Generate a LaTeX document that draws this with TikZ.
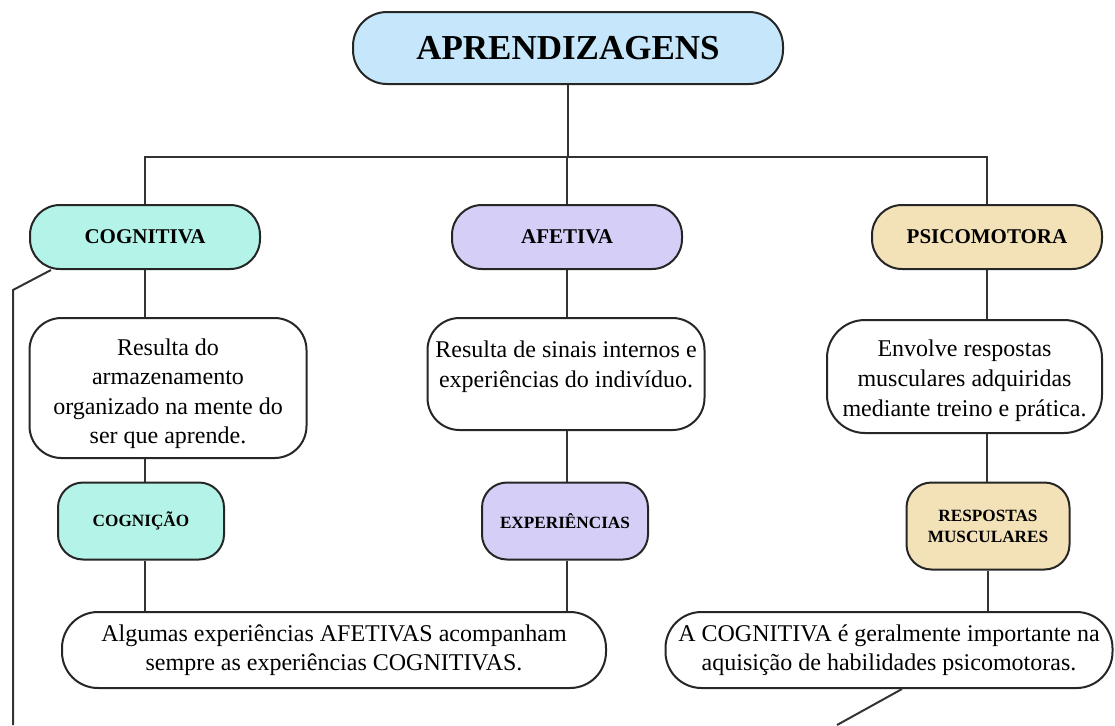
\documentclass[tikz,border=0pt]{standalone}
\usepackage{fontspec}
\setmainfont{Liberation Serif}
\usetikzlibrary{positioning}

\begin{document}
\begin{tikzpicture}[
    x=0.5pt,
    y=-0.5pt,
    box edge/.style={draw=black!85, line width=1pt},
    link/.style={draw=black!80, line width=1pt},
    title box/.style={box edge, fill=apTitle, rounded corners=17pt,
      minimum width=215pt, minimum height=36pt, inner sep=0pt,
      font=\fontsize{17.5}{20}\selectfont\bfseries},
    area box/.style={box edge, rounded corners=15pt,
      minimum width=115pt, minimum height=32pt, inner sep=0pt,
      font=\fontsize{10.5}{12}\selectfont\bfseries},
    text box/.style={box edge, fill=white, rounded corners=16pt,
      inner sep=0pt, align=center,
      font=\fontsize{12}{14.8}\selectfont},
    key box/.style={box edge, rounded corners=12.5pt,
      minimum width=83pt, minimum height=38.5pt, inner sep=0pt, align=center,
      font=\fontsize{8.6}{10.5}\selectfont\bfseries},
    note box/.style={box edge, fill=white, rounded corners=18pt,
      minimum height=38pt, inner sep=0pt, align=center,
      font=\fontsize{12}{14.6}\selectfont}
]

\definecolor{apTitle}{RGB}{198,231,251}
\definecolor{apCog}{RGB}{180,243,231}
\definecolor{apAfe}{RGB}{213,206,246}
\definecolor{apPsi}{RGB}{243,225,184}

\useasboundingbox (0,0) rectangle (1115,725);

% Title and the three kinds of learning.
\node[title box] (aprend) at (568,48) {APRENDIZAGENS};
\node[area box, fill=apCog] (cognitiva) at (145,237) {COGNITIVA};
\node[area box, fill=apAfe] (afetiva) at (567,237) {AFETIVA};
\node[area box, fill=apPsi] (psicomotora) at (987,237) {PSICOMOTORA};

% Descriptions (struts only nudge the lines inside the boxes).
\node[text box, minimum width=138.5pt, minimum height=70pt] (cogdesc) at (168,388)
  {\rule{0pt}{14pt}Resulta do\\ armazenamento\\ organizado na mente do\\ ser que aprende.};
\node[text box, minimum width=138.5pt, minimum height=56pt] (afedesc) at (566,374)
  {Resulta de sinais internos e\\ experiências do indivíduo.\rule[-9.6pt]{0pt}{0pt}};
\node[text box, rounded corners=19pt, minimum width=137.5pt, minimum height=56.5pt]
  (psidesc) at (964.5,376.5)
  {\rule{0pt}{12.5pt}Envolve respostas\\ musculares adquiridas\\ mediante treino e prática.};

% Key words.
\node[key box, fill=apCog] (cognicao) at (141,521) {COGNIÇÃO};
\node[key box, fill=apAfe] (experiencias) at (565,521) {EXPERIÊNCIAS};
\node[key box, fill=apPsi, minimum width=81.5pt, minimum height=43.5pt]
  (respostas) at (988,526) {RESPOSTAS\\ MUSCULARES};

% Notes at the bottom.
\node[note box, minimum width=272pt] (algumas) at (334,650)
  {Algumas experiências AFETIVAS acompanham\\ sempre as experiências COGNITIVAS.};
\node[note box, minimum width=223.5pt] (acognitiva) at (889,650)
  {A COGNITIVA é geralmente importante na\\ aquisição de habilidades psicomotoras.};

% Tree from the title.
\coordinate (bar) at (568,157);
\draw[link] (aprend) -- (bar);
\draw[link] (cognitiva.north) -- (cognitiva.north |- bar)
  -- (psicomotora.north |- bar) -- (psicomotora.north);
\draw[link] (afetiva.north) -- (afetiva.north |- bar);

% Vertical chains.
\draw[link] (cognitiva.south) -- (cognitiva.south |- cogdesc.north);
\draw[link] (cognitiva.south |- cogdesc.south) -- (cognitiva.south |- cognicao.north);
\draw[link] (cognitiva.south |- cognicao.south) -- (cognitiva.south |- algumas.north);
\draw[link] (afetiva.south) -- (afetiva.south |- afedesc.north);
\draw[link] (afetiva.south |- afedesc.south) -- (afetiva.south |- experiencias.north);
\draw[link] (afetiva.south |- experiencias.south) -- (afetiva.south |- algumas.north);
\draw[link] (psicomotora.south) -- (psicomotora.south |- psidesc.north);
\draw[link] (psicomotora.south |- psidesc.south) -- (psicomotora.south |- respostas.north);
\draw[link] (respostas.south) -- (respostas.south |- acognitiva.north);

% Lines running off the bottom edge.
\coordinate (leftbend) at (13,290);
\coordinate (leftend) at (13,725);
\coordinate (rightend) at (837,725);
\draw[link] ([xshift=11pt]cognitiva.south west) -- (leftbend) -- (leftend);
\draw[link] ([xshift=6.5pt]acognitiva.south) -- (rightend);

\end{tikzpicture}
\end{document}
